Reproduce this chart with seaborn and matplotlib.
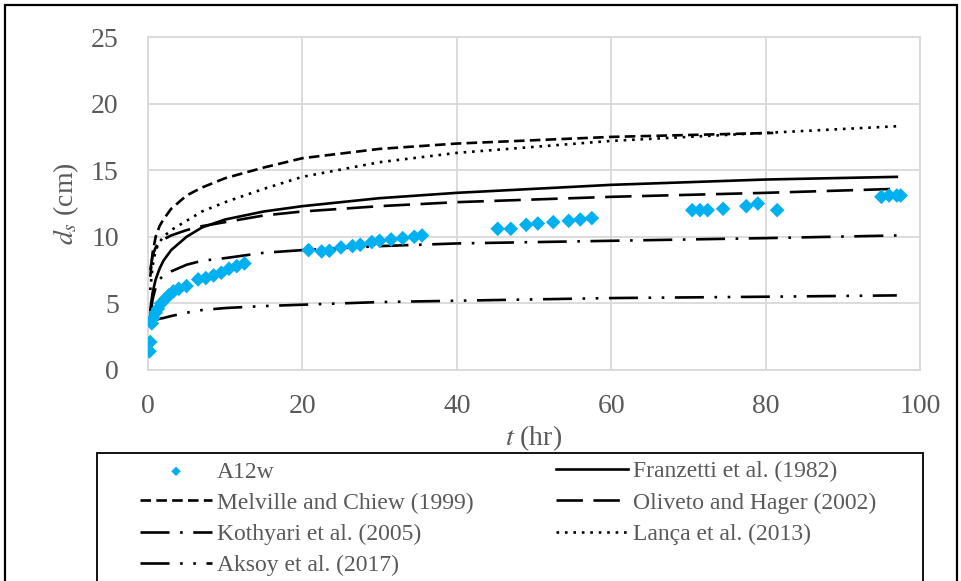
import matplotlib
matplotlib.use('Agg')
import matplotlib.pyplot as plt
import seaborn as sns
import pandas as pd
from matplotlib.patches import Rectangle

# measured scour depth (A12w)
obs_t = [0.2, 0.3, 0.5, 0.7, 1.0, 1.3, 1.7, 2.2, 2.7, 3.3, 4.0, 5.0, 6.5, 7.5, 8.5, 9.5, 10.5, 11.5, 12.5,
         20.8, 22.5, 23.5, 25.0, 26.5, 27.5, 29.0, 30.0, 31.5, 33.0, 34.5, 35.5,
         45.3, 47.0, 49.0, 50.5, 52.5, 54.5, 56.0, 57.5,
         70.5, 71.5, 72.5, 74.5, 77.5, 79.0, 81.5,
         95.0, 96.0, 97.0, 97.5]
obs_ds = [1.4, 2.1, 3.5, 3.9, 4.3, 4.6, 5.0, 5.3, 5.6, 5.9, 6.1, 6.3, 6.8, 6.9, 7.1, 7.3, 7.6, 7.8, 8.0,
          9.0, 8.9, 8.95, 9.2, 9.3, 9.4, 9.6, 9.7, 9.8, 9.9, 10.0, 10.1,
          10.6, 10.6, 10.9, 11.0, 11.1, 11.2, 11.3, 11.4,
          12.0, 12.0, 12.0, 12.1, 12.3, 12.5, 12.0,
          13.0, 13.1, 13.1, 13.1]

# predicted curves
t_pred = [0.3, 0.6, 1, 1.5, 2, 3, 5, 7, 10, 15, 20, 30, 40, 60, 80, 97]
franzetti = [4.5, 5.8, 6.8, 7.6, 8.2, 9.0, 10.0, 10.7, 11.3, 11.9, 12.3, 12.9, 13.3, 13.9, 14.3, 14.5]
oliveto = [7.5, 8.6, 9.2, 9.6, 9.8, 10.1, 10.5, 10.8, 11.1, 11.6, 11.9, 12.3, 12.6, 13.0, 13.3, 13.6]
kothyari = [4.0, 5.3, 6.2, 6.8, 7.1, 7.4, 7.9, 8.2, 8.4, 8.8, 9.0, 9.3, 9.5, 9.7, 9.9, 10.1]
lanca = [6.0, 7.8, 9.0, 9.6, 10.0, 10.5, 11.2, 11.9, 12.6, 13.6, 14.5, 15.6, 16.3, 17.2, 17.8, 18.3]
aksoy = [3.4, 3.6, 3.75, 3.85, 3.9, 4.05, 4.3, 4.5, 4.65, 4.8, 4.9, 5.1, 5.2, 5.4, 5.5, 5.6]
t_melville = [0.3, 0.6, 1, 1.5, 2, 3, 5, 7, 10, 15, 20, 30, 40, 60, 81]
melville = [7.0, 8.8, 10.0, 10.8, 11.3, 12.1, 13.1, 13.7, 14.4, 15.2, 15.9, 16.6, 17.0, 17.5, 17.8]

plt.rcParams['font.family'] = ['Liberation Serif']
plt.rcParams['mathtext.fontset'] = 'stix'

fig = plt.figure(figsize=(9.62, 5.81), dpi=100)
ax = fig.add_axes([0.1538, 0.3632, 0.8025, 0.5731])

obs = pd.DataFrame({'t': obs_t, 'ds': obs_ds})
sns.scatterplot(data=obs, x='t', y='ds', marker='D', color='#00B0F0', s=55,
                edgecolor='none', zorder=5, label='A12w', ax=ax)

lw = 1.9
curves = [
    (t_pred, franzetti, 'Franzetti et al. (1982)', '-'),
    (t_melville, melville, 'Melville and Chiew (1999)', (0, (4.0, 2.0))),
    (t_pred, oliveto, 'Oliveto and Hager (2002)', (0, (10.0, 4.0))),
    (t_pred, kothyari, 'Kothyari et al. (2005)', (0, (11.0, 4.0, 1.0, 4.0))),
    (t_pred, lanca, 'Lança et al. (2013)', (0, (1.0, 2.2))),
    (t_pred, aksoy, 'Aksoy et al. (2017)', (0, (11.0, 4.0, 1.0, 4.0, 1.0, 4.0))),
]
for xs, ys, name, ls in curves:
    sns.lineplot(x=xs, y=ys, color='black', linewidth=lw, linestyle=ls,
                 estimator=None, errorbar=None, label=name, ax=ax)

ax.set_xlim(0, 100)
ax.set_ylim(0, 25)
ax.set_xticks(range(0, 101, 20))
ax.set_yticks(range(0, 26, 5))
ax.grid(True, color='#d9d9d9', linewidth=1.3)
ax.set_axisbelow(True)
for sp in ax.spines.values():
    sp.set_color('#d9d9d9')
    sp.set_linewidth(1.3)
ax.tick_params(length=0, labelsize=20, labelcolor='#595959')
ax.tick_params(axis='y', pad=21)
ax.tick_params(axis='x', pad=17)
ax.set_xlabel('$t$ (hr)', fontsize=20, color='#595959', labelpad=3)
ax.set_ylabel('$d_s$ (cm)', fontsize=20, color='#595959', labelpad=7)

# legend: 2 columns, row order as in the reference
handles, labels = ax.get_legend_handles_labels()
ax.get_legend().remove()
order = [0, 2, 4, 6, 1, 3, 5]
leg = fig.legend([handles[i] for i in order], [labels[i] for i in order],
                 loc='upper left', bbox_to_anchor=(140 / 962, 1 - 461 / 581),
                 ncol=2, fontsize=17, frameon=False,
                 handlelength=3.05, handletextpad=0.2, labelspacing=0.41,
                 columnspacing=3.5, borderaxespad=0, borderpad=0, markerscale=0.65)
for txt in leg.get_texts():
    txt.set_color('#595959')

# legend box and outer chart border
fig.patches.append(Rectangle((97 / 962, -0.2), 826 / 962, 0.2 + 1 - 453 / 581,
                             transform=fig.transFigure, fill=False,
                             edgecolor='black', linewidth=1.3))
fig.patches.append(Rectangle((5 / 962, -0.2), 952 / 962, 1.2 - 5 / 581,
                             transform=fig.transFigure, fill=False,
                             edgecolor='black', linewidth=1.6))

fig.savefig('out.png', dpi=100)
